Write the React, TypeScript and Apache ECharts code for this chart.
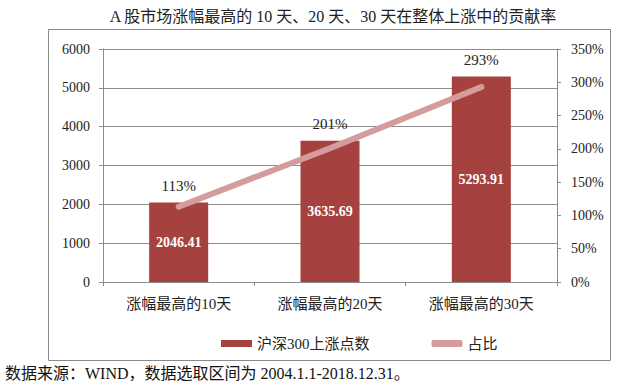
import React, { useEffect, useRef } from "react";
import * as echarts from "echarts";

const categories = ["涨幅最高的10天", "涨幅最高的20天", "涨幅最高的30天"];
const pointsUp = [2046.41, 3635.69, 5293.91];
const shareRatio = [1.13, 2.01, 2.93];
const titleText = "A 股市场涨幅最高的 10 天、20 天、30 天在整体上涨中的贡献率";
const footerText = "数据来源：WIND，数据选取区间为 2004.1.1-2018.12.31。";

const SERIF = "'Liberation Serif', 'Noto Sans CJK SC', serif";
const BAR = "#A5423F";
const LINE = "#D49C9C";
const GRID = "#8c8c8c";

export default function App() {
  const ref = useRef<HTMLDivElement>(null);
  useEffect(() => {
    if (!ref.current) return;
    const chart = echarts.init(ref.current, null, { renderer: "svg" });
    chart.setOption({
      animation: false,
      textStyle: { fontFamily: SERIF },
      grid: { left: 103, right: 75, top: 49, bottom: 103 },
      graphic: [
        {
          type: "rect",
          shape: { x: 48.5, y: 29.5, width: 562, height: 331 },
          style: { fill: "none", stroke: "#8a8a8a", lineWidth: 1 },
          silent: true,
        },
        {
          type: "text",
          x: 333,
          y: 16,
          style: {
            text: titleText,
            fontFamily: SERIF,
            fontSize: 16,
            fill: "#222",
            textAlign: "center",
            textVerticalAlign: "middle",
          },
        },
        {
          type: "text",
          x: 5,
          y: 373,
          style: {
            text: footerText,
            fontFamily: SERIF,
            fontSize: 16,
            fill: "#111",
            textAlign: "left",
            textVerticalAlign: "middle",
          },
        },
      ],
      legend: {
        left: 216,
        top: 331,
        itemWidth: 31,
        itemHeight: 7,
        itemGap: 62,
        textStyle: { fontFamily: SERIF, fontSize: 15, color: "#222" },
        data: [
          { name: "沪深300上涨点数", icon: "rect" },
          { name: "占比", icon: "roundRect" },
        ],
      },
      xAxis: {
        type: "category",
        data: categories,
        axisLine: { lineStyle: { color: GRID } },
        axisTick: { show: true, length: 4, lineStyle: { color: GRID } },
        axisLabel: { fontFamily: SERIF, fontSize: 15, color: "#222", margin: 14 },
      },
      yAxis: [
        {
          type: "value",
          min: 0,
          max: 6000,
          interval: 1000,
          axisLine: { show: true, lineStyle: { color: GRID } },
          axisTick: { show: true, length: 4, lineStyle: { color: GRID } },
          axisLabel: {
            fontFamily: SERIF,
            fontSize: 14,
            color: "#222",
            margin: 13,
            formatter: (v: number) => String(v),
          },
          splitLine: { lineStyle: { color: GRID, width: 1 } },
        },
        {
          type: "value",
          min: 0,
          max: 3.5,
          interval: 0.5,
          position: "right",
          axisLine: { show: true, lineStyle: { color: GRID } },
          axisTick: { show: true, length: 4, lineStyle: { color: GRID } },
          axisLabel: {
            fontFamily: SERIF,
            fontSize: 14,
            color: "#222",
            margin: 14,
            formatter: (v: number) => Math.round(v * 100) + "%",
          },
          splitLine: { show: false },
        },
      ],
      series: [
        {
          name: "沪深300上涨点数",
          type: "bar",
          data: pointsUp,
          barWidth: "39%",
          itemStyle: { color: BAR },
          label: {
            show: true,
            position: "inside",
            color: "#fff",
            fontFamily: SERIF,
            fontWeight: "bold",
            fontSize: 14,
            formatter: (p: any) => p.value.toFixed(2),
          },
          z: 2,
        },
        {
          name: "_pct",
          type: "bar",
          data: pointsUp,
          barWidth: "39%",
          barGap: "-100%",
          itemStyle: { color: "rgba(0,0,0,0)" },
          label: {
            show: true,
            position: "top",
            distance: 9,
            color: "#222",
            fontFamily: SERIF,
            fontSize: 15,
            formatter: (p: any) => Math.round(shareRatio[p.dataIndex] * 100) + "%",
          },
          silent: true,
          z: 1,
        },
        {
          name: "占比",
          type: "line",
          yAxisIndex: 1,
          data: shareRatio,
          showSymbol: false,
          symbol: "none",
          itemStyle: { color: LINE },
          lineStyle: { color: LINE, width: 6, cap: "round", join: "round" },
          z: 5,
        },
      ],
    });
    return () => chart.dispose();
  }, []);
  return (
    <div
      ref={ref}
      style={{ position: "fixed", left: 0, top: 0, width: 632, height: 385, background: "#fff" }}
    />
  );
}
